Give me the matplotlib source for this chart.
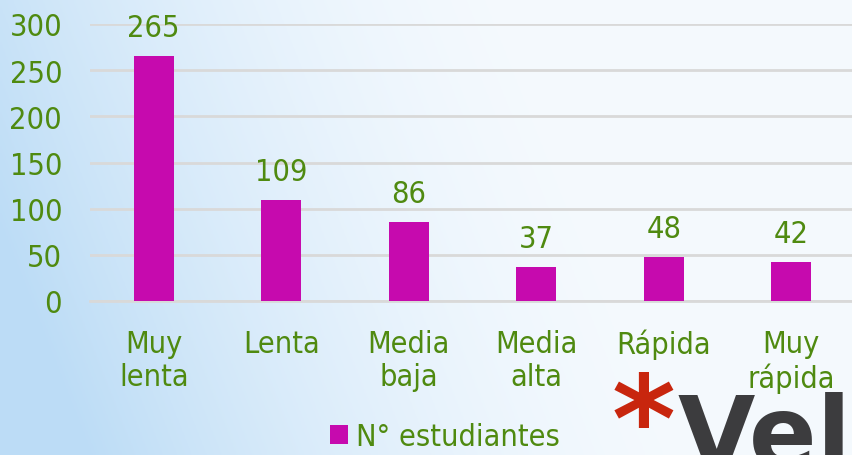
import matplotlib.pyplot as plt
import numpy as np

# datos
categorias = ['Muy\nlenta', 'Lenta', 'Media\nbaja', 'Media\nalta', 'Rápida', 'Muy\nrápida']
estudiantes = [265, 109, 86, 37, 48, 42]
y_ticks = [0, 50, 100, 150, 200, 250, 300]

verde = '#4F8A10'
magenta = '#C60AAE'
fs = 22

plt.rcParams['font.family'] = ['DejaVu Sans']
plt.rcParams['font.stretch'] = 'condensed'

fig = plt.figure(figsize=(8.53, 4.56), dpi=100)

# fondo degradado azul claro -> casi blanco
bg = fig.add_axes([0, 0, 1, 1], zorder=-10)
xx, yy = np.meshgrid(np.linspace(0, 1, 300), np.linspace(0, 1, 200))
t = np.clip(1 - xx / 0.7 + (yy - 0.5) * 0.3, 0, 1) ** 1.6
c0 = np.array([0.958, 0.978, 0.996])
c1 = np.array([0.74, 0.865, 0.965])
img = c0 * (1 - t[..., None]) + c1 * t[..., None]
bg.imshow(img, aspect='auto', extent=[0, 1, 0, 1], origin='upper')
bg.set_axis_off()

# logo
bg.text(644 / 853, 1 - 462 / 456, '*', fontsize=88, color='#C8260E', ha='center',
        va='baseline', transform=bg.transAxes, fontweight='bold', fontstretch='normal')
bg.text(678 / 853, 1 - 468 / 456, 'Vel', fontsize=72, color='#3C3C3E', ha='left',
        va='baseline', transform=bg.transAxes, fontweight='bold', fontstretch='normal')

ax = fig.add_axes([90 / 853, 1 - 302 / 456, 765 / 853, 277 / 456])
ax.patch.set_alpha(0)
x = np.arange(len(categorias))
ax.bar(x, estudiantes, width=0.31, color=magenta, zorder=3, label='N° estudiantes')
for xi, v in zip(x, estudiantes):
    ax.annotate(str(v), (xi, v), xytext=(0, 10), textcoords='offset points',
                ha='center', va='bottom', color=verde, fontsize=fs)

ax.set_xlim(-0.5, len(categorias) - 0.5)
ax.set_ylim(0, 300)
ax.set_yticks(y_ticks)
ax.set_yticklabels([str(v) for v in y_ticks], color=verde, fontsize=fs)
ax.set_xticks(x)
ax.set_xticklabels(categorias, color=verde, fontsize=fs, linespacing=1.2, va='top')
ax.tick_params(axis='x', length=0, pad=20)
ax.tick_params(axis='y', length=0, pad=20)
ax.grid(axis='y', color='#D9D9D9', linewidth=2, zorder=0)
for s in ['top', 'right', 'left']:
    ax.spines[s].set_visible(False)
ax.spines['bottom'].set_color('#D9D9D9')
ax.spines['bottom'].set_linewidth(2)

leg = fig.legend(loc='center', bbox_to_anchor=(445 / 853, 1 - 438 / 456), frameon=False,
                 fontsize=fs, handlelength=0.6, handleheight=0.6, handletextpad=0.25)
for txt in leg.get_texts():
    txt.set_color(verde)

fig.savefig('out.png', dpi=100)
